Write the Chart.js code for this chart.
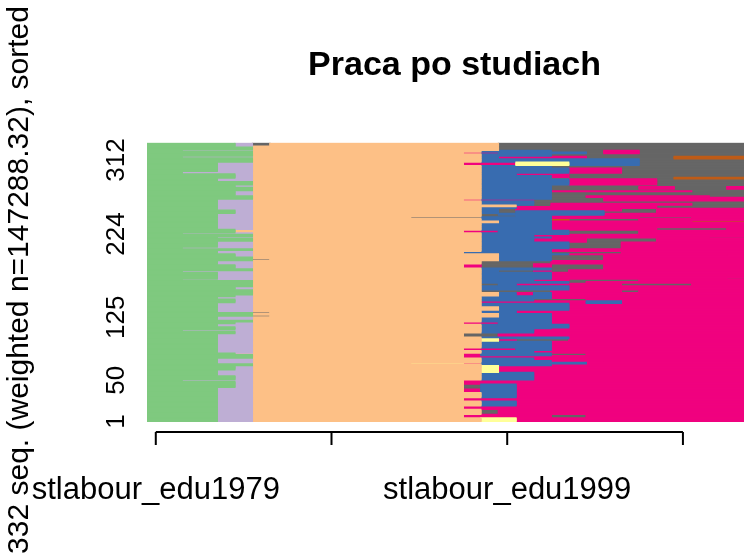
<!DOCTYPE html>
<html>
<head>
<meta charset="utf-8">
<script src="https://cdn.jsdelivr.net/npm/chart.js@4.4.0/dist/chart.umd.min.js"></script>
<style>
  html, body { margin: 0; padding: 0; background: #fff; overflow: hidden; width: 744px; height: 555px; }
  #wrap { position: absolute; left: 0; top: 0; width: 762px; height: 555px; }
</style>
</head>
<body>
<div id="wrap"><canvas id="myChart" width="762" height="555"></canvas></div>
<script>
// states, RColorBrewer "Accent" like TraMineR uses
const stateCodes = ["G", "L", "O", "Y", "B", "P", "R", "D"];
const stateColors = ["#7FC97F", "#BEAED4", "#FDC086", "#FFFF99", "#386CB0", "#F0027F", "#BF5B17", "#666666"];

const xTickPos = [0.5, 10.5, 20.5, 30.5];
const xTickLabels = ["stlabour_edu1979", "", "stlabour_edu1999", ""];
const yTickRows = [1, 50, 125, 224, 312];
const yTitle = "332 seq. (weighted n=147288.32), sorted";

// start of each sequence (columns 0-6), groups of rows from the bottom up
// "state:endColumn"
const startRows = [41, 7, 2, 5, 7, 5, 2, 7, 4, 2, 23, 3, 2, 3, 4, 2, 2, 5, 4, 12,
  4, 3, 2, 6, 4, 7, 2, 8, 2, 2, 5, 5, 4, 4, 4, 2, 2, 7, 3, 2,
  3, 2, 4, 19, 4, 13, 4, 6, 4, 3, 4, 4, 5, 3, 11, 5, 2, 6, 2, 3, 5];
const startSeqs = ["G:4 L:6", "G:5 L:6", "G:2 L:6", "G:5 L:6", "G:4 L:6", "G:5 L:6", "G:6", "G:4 L:6", "G:6", "G:5 O:6",
  "G:4 L:6", "G:5 L:6", "G:2 L:6", "G:5 L:6", "G:4 L:6", "G:5 L:6", "G:6", "G:4 L:6", "G:6", "G:4 L:6",
  "G:5 L:6", "G:4 L:6", "G:5 L:6", "G:6", "G:5 L:6", "G:6", "G:2 L:6", "G:4 L:6", "G:2 L:6", "G:6",
  "G:5 L:6", "G:4 L:6", "G:6", "G:5 L:6", "G:4 L:6", "G:6", "G:2 L:6", "G:4 L:6", "G:6", "G:4 L:6",
  "G:6", "G:2 L:6", "G:5 O:6", "G:4 L:6", "G:5 L:6", "G:4 L:6", "G:6", "G:5 L:6", "G:6", "G:5 L:6",
  "G:6", "G:4 L:6", "G:5 L:6", "G:2 L:6", "G:4 L:6", "G:6", "G:2 L:6", "G:6", "G:2 L:6", "G:6", "G:5 L:6"];

// rest of each sequence (column 6 onwards), same row order
const restRows = [5, 4, 6, 4, 6, 4, 6, 4, 6, 5, 9, 8, 2, 2, 1, 1, 3, 3, 3, 3,
  3, 8, 3, 2, 5, 5, 1, 4, 3, 6, 2, 1, 1, 2, 2, 4, 4, 3, 3, 3,
  4, 3, 5, 3, 2,
  3, 1, 7, 3, 2, 5, 4, 2, 5, 1, 3, 3, 8, 5, 1, 3, 2, 3, 3, 6, 2, 3, 2, 2, 2, 3,
  3, 2, 2, 2, 3, 2, 2, 2, 5, 1, 2, 3, 2, 7, 2, 2, 3, 6, 3, 4, 4, 3, 3, 2, 2, 5, 4];
const restSeqs = ["O:19 Y:21 P:35", "O:18 P:23 D:25 P:35", "O:19 D:20 P:35", "O:18 P:35", "O:19 B:21 P:35",
  "O:18 P:35", "O:19 B:21 P:35", "O:18 P:19 B:21 P:35", "O:18 D:19 B:21 P:35", "O:18 P:35",
  "O:19 B:22 P:35", "O:19 Y:20 P:35", "O:19 B:23 P:35", "O:15 Y:18 P:19 B:25 P:35", "O:19 P:31 D:33 P:35",
  "O:19 B:23 D:26 P:35", "O:19 B:22 P:35", "O:18 P:35", "O:18 P:19 B:23 D:25 P:35", "O:19 B:22 P:35",
  "O:18 P:21 B:23 P:35", "O:19 B:23 P:35", "O:19 Y:20 P:21 D:24 P:35", "O:19 B:24 P:35", "O:18 D:20 P:35",
  "O:19 B:22 P:35", "O:19 B:23 R:24 P:35", "O:19 B:24 P:35", "O:18 P:20 B:23 P:35", "O:19 B:23 P:35",
  "D:7 O:20 B:23 P:35", "O:19 B:23 D:26 P:35", "O:20 B:23 P:35", "D:7 O:19 B:21 P:35", "O:19 B:21 P:35",
  "O:20 B:24 P:35", "O:19 B:24 P:35", "O:19 P:25 B:27 P:35", "O:19 B:22 D:25 P:35", "O:19 B:23 P:35",
  "O:20 B:21 P:22 B:23 P:35", "O:19 D:23 P:27 D:28 P:35", "O:19 B:24 P:35", "O:19 D:20 B:21 P:27 D:31 P:35", "O:19 B:24 D:25 P:35",
  "O:19 B:22 P:24 D:28 P:35", "O:19 B:23 P:33 D:34 P:35", "O:19 B:23 P:35", "O:19 B:20 D:22 P:23 D:24 P:35", "O:19 B:23 D:26 P:35",
  "O:18 P:19 D:22 P:23 D:26 P:35", "O:19 D:23 P:35", "D:7 O:20 B:23 D:26 P:35", "O:20 B:23 D:26 P:35", "O:20 B:24 P:33 D:34 P:35",
  "O:18 B:23 D:27 P:35", "O:19 B:23 P:35", "O:19 B:24 D:27 P:35", "O:19 B:22 P:25 D:29 P:35", "O:19 B:23 P:32 D:35",
  "O:19 B:22 P:35", "O:19 B:24 D:28 P:35", "O:18 P:20 B:24 D:28 P:35", "O:19 B:23 P:29 D:33 P:35", "O:19 B:23 P:35",
  "O:20 B:23 P:31 R:35", "O:19 B:23 R:24 D:28 P:35", "O:15 D:19 B:23 P:28 D:31 P:35", "O:19 D:21 B:23 P:35", "O:19 D:20 B:26 P:35",
  "O:19 B:20 D:21 B:26 D:29 P:35",
  "O:19 B:20 D:21 P:27 D:29 P:35", "O:19 B:21 P:29 D:35", "O:21 D:23 P:29 D:35", "O:19 B:22 D:23 P:31 D:35", "O:19 B:22 D:35",
  "O:18 P:22 D:26 P:35", "O:19 B:23 D:26 P:35", "O:19 B:23 D:25 P:32 D:35", "O:19 B:23 D:35", "O:19 B:23 P:31 D:35",
  "O:19 B:23 D:35", "O:19 B:23 D:28 P:30 D:33 P:35", "O:19 B:23 D:35",
  "O:19 B:24 P:29 D:35", "O:19 B:23 R:24 D:30 R:35", "O:19 B:23 P:24 D:35", "O:19 B:21 P:24 D:35", "O:19 B:24 P:27 D:35",
  "O:19 B:23 D:35", "O:18 P:21 Y:24 B:28 D:35", "O:19 B:28 D:35", "O:19 B:20 P:25 D:30 R:35", "O:19 B:23 D:35",
  "O:18 P:20 B:25 D:26 P:28 D:35", "O:19 B:23 D:26 P:28 D:35", "O:20 D:35", "D:7 O:20 D:35"];

function expand(counts, seqs) {
  let out = [];
  counts.forEach(function (n, i) {
    let spells = seqs[i].split(" ").map(function (s) {
      let p = s.split(":");
      return [p[0], +p[1]];
    });
    for (let k = 0; k < n; k++) out.push(spells);
  });
  return out;
}

let firstPart = expand(startRows, startSeqs);
let secondPart = expand(restRows, restSeqs);
if (firstPart.length !== secondPart.length) console.log("row counts differ", firstPart.length, secondPart.length);

let points = stateCodes.map(() => []);
for (let r = 0; r < firstPart.length; r++) {
  let x0 = 0;
  firstPart[r].concat(secondPart[r] || []).forEach(function (sp) {
    let idx = stateCodes.indexOf(sp[0]);
    if (sp[1] > x0) points[idx].push({ x: [x0, sp[1]], y: r + 1 });
    x0 = sp[1];
  });
}

const rAxes = {
  id: "rAxes",
  afterDraw(chart) {
    const ctx = chart.ctx;
    const xs = chart.scales.x;
    const ys = chart.scales.y;
    const area = chart.chartArea;
    ctx.save();
    ctx.strokeStyle = "#000";
    ctx.fillStyle = "#000";
    ctx.lineWidth = 2;
    const ay = area.bottom + 10;
    ctx.beginPath();
    ctx.moveTo(xs.getPixelForValue(xTickPos[0]), ay);
    ctx.lineTo(xs.getPixelForValue(xTickPos[xTickPos.length - 1]), ay);
    xTickPos.forEach(function (v) {
      let px = xs.getPixelForValue(v);
      ctx.moveTo(px, ay);
      ctx.lineTo(px, ay + 13);
    });
    ctx.stroke();

    ctx.textAlign = "center";
    ctx.textBaseline = "middle";
    ctx.font = "31px 'Liberation Sans', Arial, sans-serif";
    xTickLabels.forEach(function (t, i) {
      if (t) ctx.fillText(t, xs.getPixelForValue(xTickPos[i]), 490);
    });

    ctx.font = "26px 'Liberation Sans', Arial, sans-serif";
    yTickRows.forEach(function (r) {
      ctx.save();
      ctx.translate(117, ys.getPixelForValue(r));
      ctx.rotate(-Math.PI / 2);
      ctx.fillText(String(r), 0, 0);
      ctx.restore();
    });

    ctx.font = "30px 'Liberation Sans', Arial, sans-serif";
    ctx.save();
    ctx.translate(20, 280);
    ctx.rotate(-Math.PI / 2);
    ctx.fillText(yTitle, 0, 0);
    ctx.restore();
    ctx.restore();
  }
};

const ctx = document.getElementById("myChart").getContext("2d");
const myChart = new Chart(ctx, {
  type: "bar",
  data: {
    datasets: stateCodes.map(function (s, i) {
      return {
        label: s,
        data: points[i],
        backgroundColor: stateColors[i],
        borderWidth: 0,
        inflateAmount: 0.6,
        grouped: false,
        barPercentage: 1,
        categoryPercentage: 1,
      };
    }),
  },
  options: {
    responsive: false,
    animation: false,
    devicePixelRatio: 1,
    indexAxis: "y",
    layout: { padding: { left: 147, right: 0, top: 0, bottom: 133 } },
    scales: {
      x: { type: "linear", min: 0, max: 35, display: false, offset: false },
      y: { type: "linear", min: 0.5, max: 332.5, display: false, offset: false },
    },
    plugins: {
      legend: { display: false },
      tooltip: { enabled: false },
      title: {
        display: true,
        text: "Praca po studiach",
        fullSize: false,
        color: "#000",
        font: { family: "'Liberation Sans', Arial, sans-serif", size: 34, weight: "bold" },
        padding: { top: 45, bottom: 57 },
      },
    },
  },
  plugins: [rAxes],
});
</script>
</body>
</html>
